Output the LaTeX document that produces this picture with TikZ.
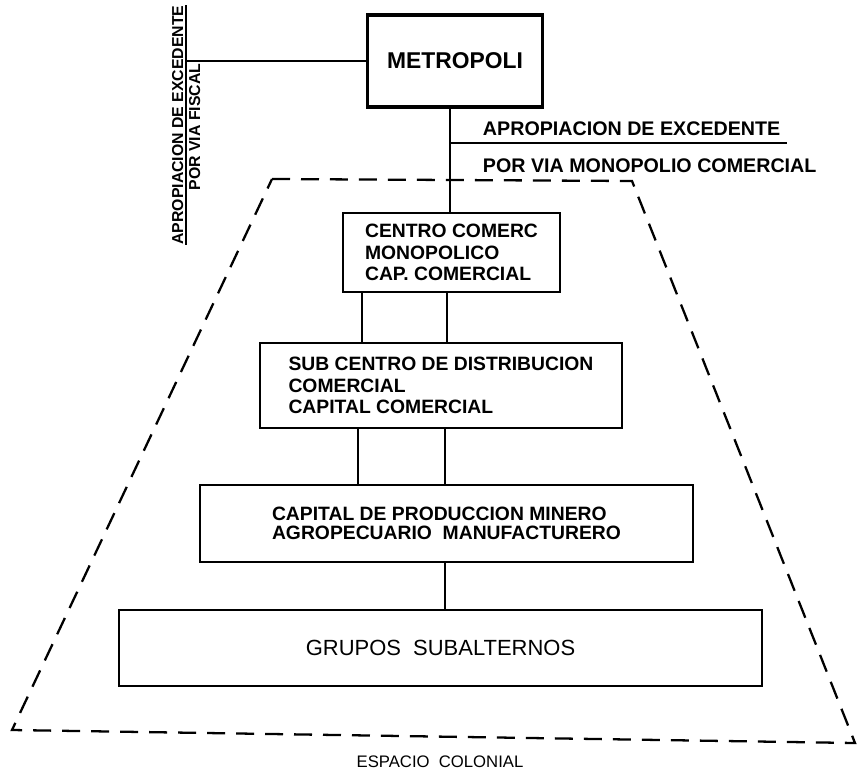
\documentclass[tikz,border=0pt]{standalone}
\usepackage{fontspec}
\setmainfont{Liberation Sans}

\tikzset{
	caja/.style={draw, line width=1.3pt, inner sep=0pt, align=left,
		font=\bfseries\fontsize{11}{12.2}\selectfont},
	etiq/.style={inner sep=0pt, font=\bfseries\fontsize{11.2}{13}\selectfont},
	etiqchica/.style={inner sep=0pt, font=\bfseries\fontsize{9}{11}\selectfont},
	borde/.style={line width=1.3pt, dash pattern=on 0.36cm off 0.22cm}
}

\begin{document}
\begin{tikzpicture}[x=0.02cm, y=-0.02cm, line width=1.1pt]
	\useasboundingbox (0,0) rectangle (857,774);
	% cajas
	\node[caja, line width=1.8pt, minimum width=3.5cm, minimum height=1.84cm,
		font=\bfseries\fontsize{13}{15}\selectfont] (metro) at (455,61) {METROPOLI};
	\node[caja, minimum width=4.34cm, minimum height=1.58cm] (centro) at (451.5,252.5)
		{CENTRO COMERC\\MONOPOLICO\\CAP. COMERCIAL};
	\node[caja, minimum width=7.24cm, minimum height=1.7cm] (sub) at (441,385.5)
		{SUB CENTRO DE DISTRIBUCION\\COMERCIAL\\CAPITAL COMERCIAL};
	\node[caja, minimum width=9.86cm, minimum height=1.54cm,
		font=\bfseries\fontsize{11}{10.5}\selectfont] (capital) at (446.5,523.5)
		{CAPITAL DE PRODUCCION MINERO\\AGROPECUARIO\ \ MANUFACTURERO};
	\node[caja, minimum width=12.86cm, minimum height=1.52cm,
		font=\fontsize{12.5}{15}\selectfont] (grupos) at (440.5,648) {GRUPOS\ \ SUBALTERNOS};
	% lineas
	\draw (metro.south -| 450,0) -- (centro.north -| 450,0);
	\foreach \x in {362,447}{
		\draw (centro.south -| \x,0) -- (sub.north -| \x,0);
	}
	\foreach \x in {358,445}{
		\draw (sub.south -| \x,0) -- (capital.north -| \x,0);
	}
	\draw (capital.south -| 445,0) -- (grupos.north -| 445,0);
	% via monopolio comercial
	\coordinate (monoL) at (450,143);
	\coordinate (monoR) at (787,143);
	\draw (monoL) -- (monoR);
	\node[etiq, anchor=base west] (apropM) at (482,135) {APROPIACION DE EXCEDENTE};
	\node[etiq, anchor=base west] (monopolio) at (482,172) {POR VIA MONOPOLIO COMERCIAL};
	% via fiscal
	\coordinate (fiscT) at (186,5);
	\coordinate (fiscB) at (186,245);
	\draw (fiscT) -- (fiscB);
	\draw (metro.west) -- (metro.west -| fiscT);
	\node[etiqchica, rotate=90, anchor=base] (apropF) at (183,125) {APROPIACION DE EXCEDENTE};
	\node[etiqchica, rotate=90, anchor=base] (fiscal) at (200,127) {POR VIA FISCAL};
	% espacio colonial
	\draw[borde] (272,179) -- (632,181) -- (855,743) -- (12,730) -- cycle;
	\node[font=\fontsize{9.5}{11}\selectfont] (espacio) at (440,762) {ESPACIO\ \ COLONIAL};
\end{tikzpicture}
\end{document}
